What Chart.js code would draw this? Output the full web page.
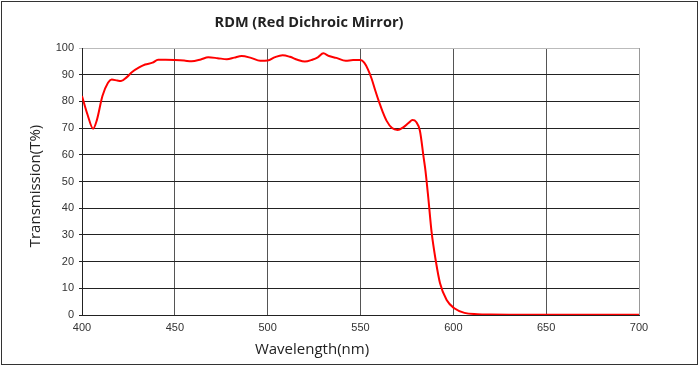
<!DOCTYPE html>
<html>
<head>
<meta charset="utf-8">
<script src="https://cdn.jsdelivr.net/npm/chart.js@4/dist/chart.umd.min.js"></script>
<style>
  html, body { margin: 0; padding: 0; background: #fff; }
  canvas { display: block; }
</style>
</head>
<body>
<canvas id="rdmChart" width="700" height="367"></canvas>
<script>
// Transmission curve
const wavelengths = [400, 403, 406, 408, 411, 414, 416, 419, 421, 424, 427, 431, 434, 438, 441, 445,
  450, 455, 459, 464, 468, 473, 478, 482, 486, 491, 496, 500, 504, 508, 512, 516, 520, 524, 527,
  530, 533, 537, 542, 546, 550, 552, 554, 556, 558, 560, 562, 564, 567, 570, 573, 576, 578, 580,
  582, 584, 585, 586.5, 588.3, 590.5, 592.8, 596.4, 600.5, 606, 613, 620, 630, 645, 660, 680, 700];
const transmission = [82, 75, 69.8, 73, 82, 87, 88.2, 87.8, 87.6, 89, 91, 92.8, 93.8, 94.5, 95.6, 95.6,
  95.5, 95.3, 95, 95.7, 96.5, 96.2, 95.8, 96.4, 97, 96.3, 95.2, 95.3, 96.6, 97.3, 96.7, 95.6, 94.9, 95.6, 96.5,
  98, 97, 96.3, 95.2, 95.5, 95.5, 94.5, 92, 88.5, 84, 79.8, 76, 72.8, 70, 69.3, 70.3, 72, 73, 72.3,
  69, 59, 54, 44, 31, 20.5, 12, 5.6, 2.5, 0.8, 0.3, 0.15, 0.1, 0.1, 0.1, 0.1, 0.1];

const chartTitle = "RDM (Red Dichroic Mirror)";
const xTitle = "Wavelength(nm)";
const yTitle = "Transmission(T%)";

// Helper: draws titles and the outer frame
const framePlugin = {
  id: "frame",
  afterDraw(chart) {
    const c = chart.ctx;
    c.save();
    c.strokeStyle = "#333";
    c.lineWidth = 1;
    c.strokeRect(1.5, 1.5, 696, 363);

    c.fillStyle = "#222";
    c.textAlign = "center";
    c.textBaseline = "middle";
    c.font = "bold 14.5px 'Open Sans'";
    c.fillText(chartTitle, 309, 23);

    c.font = "15px 'Open Sans'";
    c.fillText(xTitle, 312, 350);

    c.translate(36, 186);
    c.rotate(-Math.PI / 2);
    c.fillText(yTitle, 0, 0);
    c.restore();
  },
};

const points = wavelengths.map((w, i) => ({ x: w, y: transmission[i] }));

new Chart(document.getElementById("rdmChart"), {
  type: "line",
  data: {
    datasets: [
      {
        data: points,
        borderColor: "#ff0000",
        borderWidth: 2,
        pointRadius: 0,
        cubicInterpolationMode: "monotone",
        fill: false,
      },
    ],
  },
  options: {
    responsive: false,
    animation: false,
    layout: { padding: { left: 0, top: 48, right: 61, bottom: 0 } },
    plugins: {
      legend: { display: false },
      title: { display: false },
      tooltip: { enabled: false },
    },
    scales: {
      x: {
        type: "linear",
        min: 400,
        max: 700,
        ticks: {
          stepSize: 50,
          color: "#333",
          font: { family: "'Liberation Sans'", size: 11 },
          padding: 6,
          maxRotation: 0,
        },
        grid: {
          drawTicks: false,
          color: (ctx) => (ctx.tick && ctx.tick.value === 700 ? "#999" : "#555"),
        },
        border: { color: "#222" },
        afterFit: (scale) => { scale.height = 52; },
      },
      y: {
        min: 0,
        max: 100,
        ticks: {
          stepSize: 10,
          color: "#333",
          font: { family: "'Liberation Sans'", size: 11 },
          padding: 5,
        },
        grid: {
          tickLength: 3,
          color: (ctx) => (ctx.tick && ctx.tick.value === 100 ? "#bbb" : "#222"),
        },
        border: { color: "#222" },
        afterFit: (scale) => { scale.width = 82; },
      },
    },
  },
  plugins: [framePlugin],
});
</script>
</body>
</html>
